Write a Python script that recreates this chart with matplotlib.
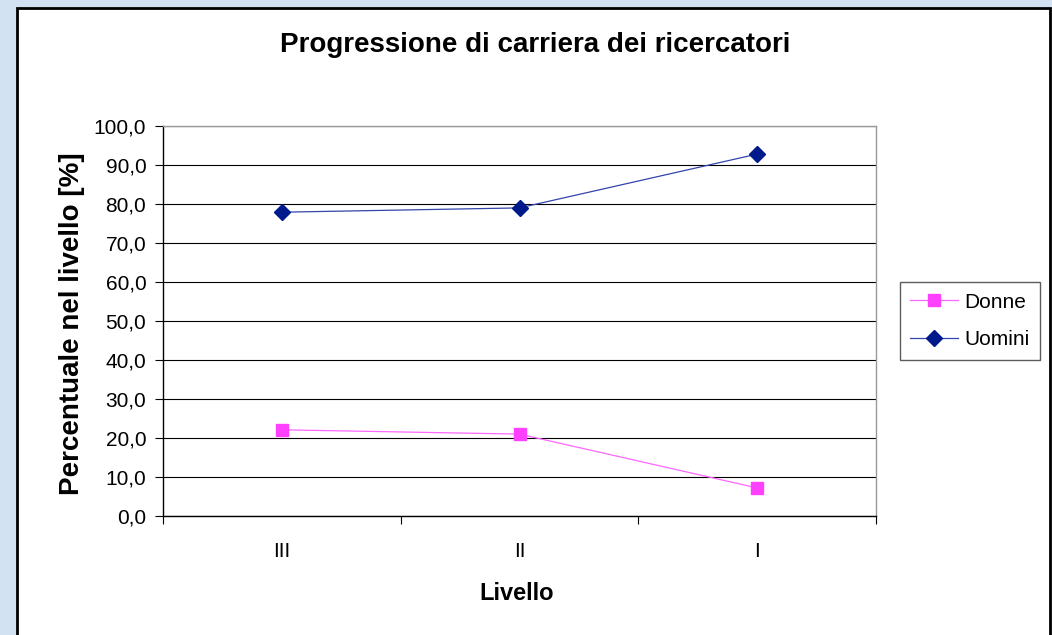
import matplotlib
matplotlib.use("Agg")
import matplotlib.pyplot as plt
from matplotlib.patches import Rectangle

categories = ["III", "II", "I"]
donne = [22.1, 21.0, 7.2]
uomini = [77.9, 79.0, 92.8]
yticks = [0, 10, 20, 30, 40, 50, 60, 70, 80, 90, 100]
ytick_labels = ["0,0", "10,0", "20,0", "30,0", "40,0", "50,0", "60,0", "70,0", "80,0", "90,0", "100,0"]

plt.rcParams['font.family'] = ['Liberation Sans', 'DejaVu Sans']

W, H = 1052, 635
fig = plt.figure(figsize=(W / 100, H / 100), dpi=100)
fig.patch.set_facecolor('#D3E2F3')

# background axes holding the outer white chart box
bg = fig.add_axes([0, 0, 1, 1], zorder=0)
bg.set_xlim(0, W)
bg.set_ylim(H, 0)
bg.axis('off')
bg.add_patch(Rectangle((17, 8), 1050 - 17, 640 - 8, facecolor='white',
                       edgecolor='black', linewidth=2))

ax = fig.add_axes([163 / W, 1 - 516 / H, (876 - 163) / W, (516 - 126) / H], zorder=1)
ax.set_facecolor('white')
x = list(range(len(categories)))

ax.plot(x, donne, color='#FF66FF', linewidth=0.9, marker='s', markersize=8,
        markerfacecolor='#FF40FF', markeredgecolor='#FF40FF', label='Donne', zorder=3)
ax.plot(x, uomini, color='#3344AA', linewidth=0.9, marker='D', markersize=8,
        markerfacecolor='#001A8C', markeredgecolor='#001A8C', label='Uomini', zorder=3)

ax.set_xlim(-0.5, len(categories) - 0.5)
ax.set_ylim(0, 100)
ax.set_yticks(yticks)
ax.set_yticklabels(ytick_labels, fontsize=15)
ax.yaxis.grid(True, color='black', linewidth=0.8)
ax.set_axisbelow(True)

ax.set_xticks(x)
ax.set_xticklabels(categories, fontsize=15)
ax.tick_params(axis='x', which='major', length=0, pad=19)
ax.set_xticks([-0.5, 0.5, 1.5, 2.5], minor=True)
ax.tick_params(axis='x', which='minor', length=6, width=0.8, direction='out')
ax.tick_params(axis='y', length=6, width=0.8, direction='out', pad=6)

for s in ['top', 'right']:
    ax.spines[s].set_color('#999999')
    ax.spines[s].set_linewidth(1)
for s in ['left', 'bottom']:
    ax.spines[s].set_color('black')
    ax.spines[s].set_linewidth(1)

fig.text(535 / W, 1 - 45 / H, "Progressione di carriera dei ricercatori",
         fontsize=20, fontweight='bold', ha='center', va='center')
fig.text(72 / W, 1 - 324 / H, "Percentuale nel livello [%]", fontsize=20,
         fontweight='bold', rotation=90, ha='center', va='center')
fig.text(517 / W, 1 - 593 / H, "Livello", fontsize=17, fontweight='bold',
         ha='center', va='center')

leg = ax.legend(loc='center left', bbox_to_anchor=(900 / W, 1 - 321 / H),
                bbox_transform=fig.transFigure, fontsize=15, frameon=True,
                fancybox=False, edgecolor='#333333', handlelength=2.3,
                borderpad=0.5, labelspacing=0.9, handletextpad=0.3, borderaxespad=0)
leg.get_frame().set_linewidth(1)

fig.savefig("out.png", dpi=100, facecolor=fig.get_facecolor())
